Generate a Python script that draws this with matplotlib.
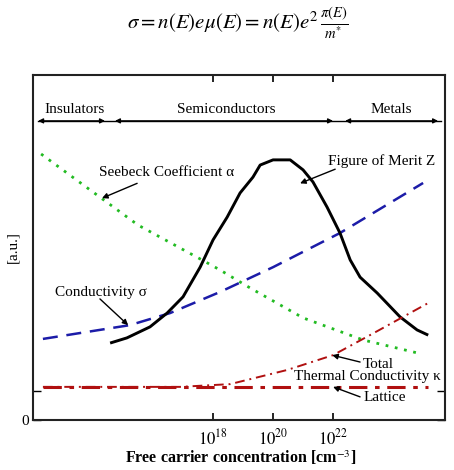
import matplotlib
matplotlib.use("Agg")
import matplotlib.pyplot as plt

plt.rcParams['font.family'] = ['Liberation Serif', 'DejaVu Serif']
plt.rcParams['mathtext.fontset'] = 'stix'

# log10 of carrier concentration vs arbitrary units
seebeck_x = [12.27, 14.23, 15.5, 17.63, 18.23, 19.23, 21.0, 23.0, 24.97]
seebeck_y = [7.71, 6.46, 5.65, 4.64, 4.35, 3.83, 2.96, 2.32, 1.91]

merit_x = [14.57, 15.13, 15.9, 16.47, 17.0, 17.57, 18.0, 18.47, 18.9, 19.33, 19.57, 20.0,
           20.57, 21.0, 21.33, 21.8, 22.23, 22.57, 22.9, 23.47, 24.23, 24.8, 25.17]
merit_y = [2.23, 2.38, 2.70, 3.10, 3.57, 4.43, 5.22, 5.88, 6.58, 7.04, 7.39, 7.54,
           7.54, 7.25, 6.90, 6.17, 5.42, 4.64, 4.14, 3.68, 2.99, 2.61, 2.46]

cond_x = [12.33, 15.23, 16.57, 18.23, 20.0, 22.23, 25.0]
cond_y = [2.35, 2.75, 3.10, 3.71, 4.43, 5.42, 6.87]

total_x = [12.33, 16.9, 18.57, 20.47, 22.0, 23.23, 25.17]
total_y = [0.96, 0.96, 1.04, 1.45, 1.88, 2.46, 3.39]

lattice_x = [12.33, 25.17]
lattice_y = [0.96, 0.96]

xtick_pos = [18, 20, 22]
xtick_labels = [r'$10^{18}$', r'$10^{20}$', r'$10^{22}$']

regions = ['Insulators', 'Semiconductors', 'Metals']
region_spans = [(12.17, 14.4), (14.73, 22.0), (22.4, 25.5)]
region_label_x = [13.37, 18.43, 23.93]

fig = plt.figure(figsize=(4.54, 4.70), dpi=100)
ax = fig.add_axes([0.0727, 0.1064, 0.9075, 0.734])
ax.set_xlim(12, 25.73)
ax.set_ylim(0, 10)

ax.plot(seebeck_x, seebeck_y, color='#22bb22', lw=2.0, linestyle=(0, (1, 2.4)))
ax.plot(cond_x, cond_y, color='#1c1ca8', lw=1.8, linestyle=(0, (6, 3.5)))
ax.plot(merit_x, merit_y, color='black', lw=2.1, solid_capstyle='butt', solid_joinstyle='round')
ax.plot(total_x, total_y, color='#b01010', lw=1.4, linestyle=(0, (5, 2.5, 1, 2.5)))
ax.plot(lattice_x, lattice_y, color='#b01010', lw=2.2, linestyle=(0, (6, 2.5, 1.5, 2.5)))

# region bar
ax.plot([12.17, 25.6], [8.67, 8.67], color='black', lw=1.0)
for (a, b), name, lx in zip(region_spans, regions, region_label_x):
    ax.annotate('', xy=(a, 8.67), xytext=(b, 8.67),
                arrowprops=dict(arrowstyle='<|-|>', color='black', lw=1.0,
                                mutation_scale=7, shrinkA=0, shrinkB=0))
    ax.text(lx, 9.0, name, ha='center', va='center', fontsize=11)

arrow_kw = dict(arrowstyle='-|>', color='black', lw=1.0, mutation_scale=8, shrinkA=0, shrinkB=0)
ax.text(14.2, 7.17, 'Seebeck Coefficient α', fontsize=11, ha='left', va='center')
ax.annotate('', xy=(14.3, 6.43), xytext=(15.47, 6.86), arrowprops=arrow_kw)

ax.text(21.83, 7.51, 'Figure of Merit Z', fontsize=11, ha='left', va='center')
ax.annotate('', xy=(20.9, 6.86), xytext=(22.07, 7.27), arrowprops=arrow_kw)

ax.text(12.73, 3.7, 'Conductivity σ', fontsize=11, ha='left', va='center')
ax.annotate('', xy=(15.17, 2.75), xytext=(14.23, 3.51), arrowprops=arrow_kw)

ax.text(23.0, 1.62, 'Total', fontsize=11, ha='left', va='center')
ax.annotate('', xy=(21.97, 1.88), xytext=(22.9, 1.68), arrowprops=arrow_kw)
ax.text(25.6, 1.25, 'Thermal Conductivity κ', fontsize=11, ha='right', va='center')
ax.text(23.0, 0.64, 'Lattice', fontsize=11, ha='left', va='center')
ax.annotate('', xy=(22.0, 0.96), xytext=(22.9, 0.67), arrowprops=arrow_kw)

# ticks
ax.set_xticks(xtick_pos)
ax.set_xticklabels(xtick_labels, fontsize=12)
ax.tick_params(axis='x', direction='in', length=5, width=1.2, top=True, pad=6)
ax.set_yticks([0, 0.84])
ax.set_yticklabels(['0', ''], fontsize=11)
ax.tick_params(axis='y', direction='in', length=6, width=1.0, right=True, pad=3)
for s in ax.spines.values():
    s.set_linewidth(1.5)
    s.set_color('#222222')

fig.text(0.531, 0.026, r'Free carrier concentration [cm$^{-3}$]', fontsize=11.5,
         fontweight='bold', ha='center', va='center')
ax.set_ylabel('[a.u.]', fontsize=11, labelpad=1)

fig.text(0.524, 0.951, r'$\sigma = n(E)e\mu(E) = n(E)e^{2}\,\frac{\pi(E)}{m^{*}}$',
         ha='center', va='center', fontsize=15)

fig.savefig('out.png', dpi=100)
